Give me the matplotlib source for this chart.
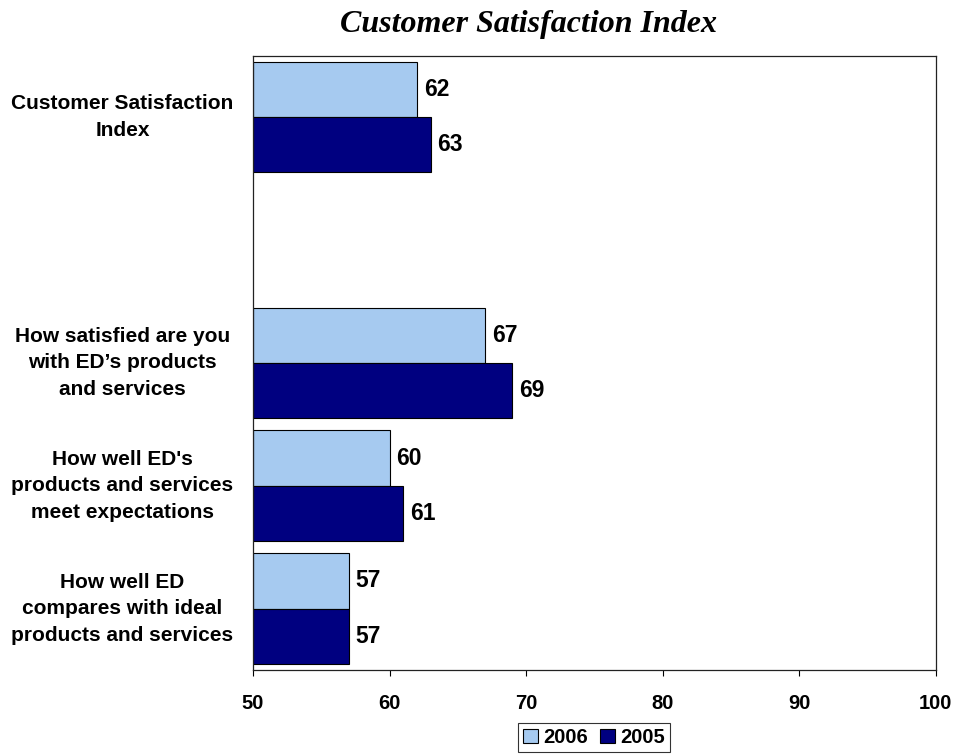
import matplotlib
matplotlib.use("Agg")
import matplotlib.pyplot as plt
from matplotlib.transforms import blended_transform_factory

# Survey items (top to bottom); None leaves an empty row between the index and its components
categories = [
    "Customer Satisfaction\nIndex",
    None,
    "How satisfied are you\nwith ED\u2019s products\nand services",
    "How well ED's\nproducts and services\nmeet expectations",
    "How well ED\ncompares with ideal\nproducts and services",
]
scores_2006 = [62, None, 67, 60, 57]
scores_2005 = [63, None, 69, 61, 57]
series_names = ["2006", "2005"]
x_ticks = [50, 60, 70, 80, 90, 100]

color_2006 = "#A6CAF0"
color_2005 = "#000080"

plt.rcParams["font.family"] = ["Liberation Sans", "DejaVu Sans"]

fig = plt.figure(figsize=(9.55, 7.54), dpi=100)
ax = fig.add_axes([253 / 955, 1 - 670 / 754, (935.7 - 253) / 955, (670 - 55.7) / 754])

bar_h = 0.45
rows = [i for i, c in enumerate(categories) if c is not None]
v06 = [scores_2006[i] for i in rows]
v05 = [scores_2005[i] for i in rows]
y06 = [r - bar_h / 2 for r in rows]
y05 = [r + bar_h / 2 for r in rows]

b06 = ax.barh(y06, [v - 50 for v in v06], left=50, height=bar_h, color=color_2006,
              edgecolor="black", linewidth=0.8, label=series_names[0])
b05 = ax.barh(y05, [v - 50 for v in v05], left=50, height=bar_h, color=color_2005,
              edgecolor="black", linewidth=0.8, label=series_names[1])

for y, v in list(zip(y06, v06)) + list(zip(y05, v05)):
    ax.annotate(f"{v}", xy=(v, y), xytext=(5, 0), textcoords="offset points",
                ha="left", va="center", fontsize=16.5, fontweight="bold", color="black")

ax.set_xlim(50, 100)
ax.set_ylim(len(categories) - 0.5, -0.5)
ax.set_xticks(x_ticks)
ax.set_xticklabels([str(t) for t in x_ticks], fontsize=14.5, fontweight="bold")
ax.tick_params(axis="x", direction="out", length=4.5, width=0.8, pad=13, colors="black")
ax.set_yticks([])
for s in ax.spines.values():
    s.set_linewidth(0.9)
    s.set_color("#222222")

# Category labels centred in the left margin
trans = blended_transform_factory(fig.transFigure, ax.transData)
for i in rows:
    ax.text(122.5 / 955, i, categories[i], transform=trans, ha="center", va="center",
            fontsize=15, fontweight="bold", linespacing=1.5, clip_on=False)

fig.text(529 / 955, 1 - 32 / 754, "Customer Satisfaction Index", ha="center", va="baseline",
         fontsize=23, fontweight="bold", fontstyle="italic",
         family=["Liberation Serif", "DejaVu Serif"])

leg = fig.legend(handles=[b06, b05], labels=series_names, ncol=2,
                 loc="lower center", bbox_to_anchor=(594 / 955, 0.0),
                 prop={"size": 14.5, "weight": "bold"}, frameon=True, fancybox=False,
                 edgecolor="black", handlelength=0.75, handleheight=0.75,
                 handletextpad=0.25, columnspacing=0.6, borderpad=0.25, borderaxespad=0.1)
leg.get_frame().set_linewidth(0.8)

fig.savefig("out.png", dpi=100)
